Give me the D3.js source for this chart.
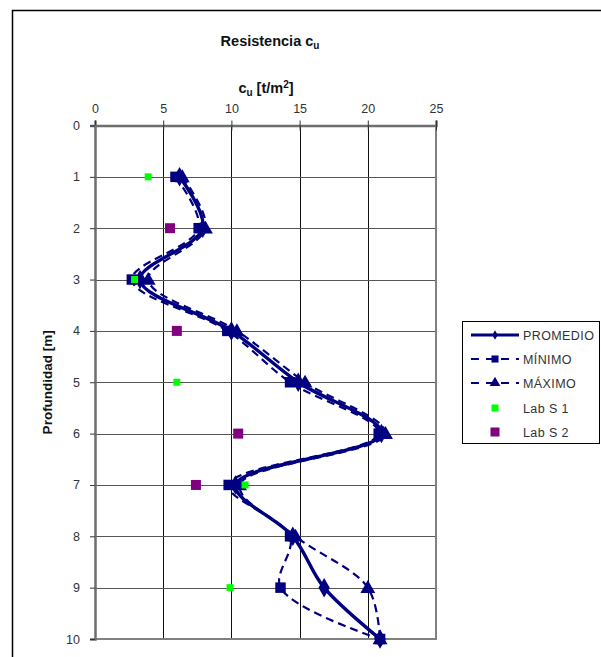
<!DOCTYPE html>
<html>
<head>
<meta charset="utf-8">
<script src="https://cdn.jsdelivr.net/npm/d3@7"></script>
<style>
  html, body { margin: 0; padding: 0; background: #fff; }
  svg { display: block; font-family: "Liberation Sans", Arial, sans-serif; }
</style>
</head>
<body>
<svg id="chart" width="601" height="657"></svg>
<script>
// Depth of each measurement [m]
const depths = [1, 2, 3, 4, 5, 6, 7, 8, 9, 10];
// Undrained shear strength cu [t/m2]
const promedio = [6.2, 7.9, 3.3, 10.0, 14.9, 21.0, 10.3, 14.5, 16.8, 20.9];
const minimo   = [5.9, 7.6, 2.7, 9.7, 14.3, 20.8, 9.8, 14.3, 13.6, 20.9];
const maximo   = [6.4, 8.1, 3.9, 10.4, 15.4, 21.3, 10.6, 14.7, 20.0, 20.9];
// Laboratory results
const labS1Depth = [1, 3, 5, 7, 9];
const labS1      = [3.9, 2.9, 6.0, 11.0, 9.9];
const labS2Depth = [2, 4, 6, 7];
const labS2      = [5.5, 6.0, 10.5, 7.4];
// Axis ticks
const xTicks = [0, 5, 10, 15, 20, 25];
const yTicks = [0, 1, 2, 3, 4, 5, 6, 7, 8, 9, 10];

const navy = "#000080";
const svg = d3.select("#chart");

// outer frame
svg.append("rect").attr("x", 12.5).attr("y", 10.5).attr("width", 620).attr("height", 700)
  .attr("fill", "none").attr("stroke", "#000").attr("stroke-width", 1.5);

const x = d3.scaleLinear().domain([0, 25]).range([95, 436]);
const y = d3.scaleLinear().domain([0, 10]).range([125.5, 639]);

// gridlines
svg.append("g").selectAll("line").data(xTicks.slice(1, -1)).join("line")
  .attr("x1", d => Math.round(x(d)) + 0.5).attr("x2", d => Math.round(x(d)) + 0.5)
  .attr("y1", y(0)).attr("y2", y(10)).attr("stroke", "#111").attr("stroke-width", 1);
svg.append("g").selectAll("line").data(yTicks.slice(1, -1)).join("line")
  .attr("x1", x(0)).attr("x2", x(25))
  .attr("y1", d => Math.round(y(d)) + 0.5).attr("y2", d => Math.round(y(d)) + 0.5)
  .attr("stroke", "#555").attr("stroke-width", 1.2);

// right and bottom border of plot area
svg.append("path")
  .attr("d", `M${x(0)},${y(10)}H${x(25)}V${y(0)}`)
  .attr("fill", "none").attr("stroke", "#808080").attr("stroke-width", 2);

// top axis
const xAxis = d3.axisTop(x).tickValues(xTicks).tickSize(5).tickPadding(8);
const gx = svg.append("g").attr("transform", `translate(0,${y(0)})`).call(xAxis);
gx.select(".domain").attr("stroke", "#6e6e6e").attr("stroke-width", 2.5);
gx.selectAll(".tick line").attr("stroke", "#333").attr("y2", 5).attr("y1", -5);
gx.selectAll(".tick text").attr("font-size", 12.5).attr("fill", "#333")
  .attr("font-family", "Liberation Sans, Arial, sans-serif");

// left axis
const yAxis = d3.axisLeft(y).tickValues(yTicks).tickSize(5).tickPadding(10);
const gy = svg.append("g").attr("transform", `translate(${x(0)},0)`).call(yAxis);
gy.select(".domain").attr("stroke", "#6e6e6e").attr("stroke-width", 2.5);
gy.selectAll(".tick line").attr("stroke", "#333").attr("x1", 0).attr("x2", -5);
gy.selectAll(".tick text").attr("font-size", 12.5).attr("fill", "#333")
  .attr("font-family", "Liberation Sans, Arial, sans-serif");

// titles
const title = svg.append("text").attr("x", 270).attr("y", 46).attr("text-anchor", "middle")
  .attr("font-weight", "bold").attr("font-size", 14.5).attr("fill", "#111");
title.append("tspan").text("Resistencia c");
title.append("tspan").attr("font-size", 10).attr("dy", 3).text("u");

const xt = svg.append("text").attr("x", 266).attr("y", 93).attr("text-anchor", "middle")
  .attr("font-weight", "bold").attr("font-size", 14.5).attr("fill", "#111");
xt.append("tspan").text("c");
xt.append("tspan").attr("font-size", 10).attr("dy", 3).text("u");
xt.append("tspan").attr("dy", -3).text(" [t/m");
xt.append("tspan").attr("font-size", 10).attr("dy", -5).text("2");
xt.append("tspan").attr("dy", 5).text("]");

svg.append("text").attr("transform", `translate(52,${(y(0) + y(10)) / 2}) rotate(-90)`)
  .attr("text-anchor", "middle").attr("font-weight", "bold").attr("font-size", 13.5)
  .attr("fill", "#111").text("Profundidad [m]");

// series
const line = d3.line().curve(d3.curveCatmullRom.alpha(0.5));
const pts = vals => vals.map((v, i) => [x(v), y(depths[i])]);

const plot = svg.append("g");
plot.append("path").attr("d", line(pts(minimo))).attr("fill", "none")
  .attr("stroke", navy).attr("stroke-width", 2.2).attr("stroke-dasharray", "8,5");
plot.append("path").attr("d", line(pts(maximo))).attr("fill", "none")
  .attr("stroke", navy).attr("stroke-width", 2.2).attr("stroke-dasharray", "8,5");
plot.append("path").attr("d", line(pts(promedio))).attr("fill", "none")
  .attr("stroke", navy).attr("stroke-width", 3.4);

const sq = d3.symbol().type(d3.symbolSquare);
const tri = d3.symbol().type(d3.symbolTriangle);
const dia = d3.symbol().type(d3.symbolDiamond);

plot.append("g").selectAll("path").data(minimo).join("path")
  .attr("transform", (d, i) => `translate(${x(d)},${y(depths[i])})`)
  .attr("d", sq.size(110)).attr("fill", navy);
plot.append("g").selectAll("path").data(maximo).join("path")
  .attr("transform", (d, i) => `translate(${x(d)},${y(depths[i]) + 1})`)
  .attr("d", tri.size(95)).attr("fill", navy);
plot.append("g").selectAll("path").data(promedio).join("path")
  .attr("transform", (d, i) => `translate(${x(d)},${y(depths[i])})`)
  .attr("d", dia.size(110)).attr("fill", navy);

plot.append("g").selectAll("rect").data(labS2).join("rect")
  .attr("x", d => x(d) - 5).attr("y", (d, i) => y(labS2Depth[i]) - 5)
  .attr("width", 10).attr("height", 10).attr("fill", "#800080");
plot.append("g").selectAll("rect").data(labS1).join("rect")
  .attr("x", d => x(d) - 3.5).attr("y", (d, i) => y(labS1Depth[i]) - 3.5)
  .attr("width", 7).attr("height", 7).attr("fill", "#00ff00");

// legend
const lg = svg.append("g");
lg.append("rect").attr("x", 462.5).attr("y", 321.5).attr("width", 137).attr("height", 122)
  .attr("fill", "#fff").attr("stroke", "#000").attr("stroke-width", 1);
const legendItems = [
  { name: "PROMEDIO", kind: "solid", sym: dia, y: 335 },
  { name: "MÍNIMO", kind: "dash", sym: sq, y: 359 },
  { name: "MÁXIMO", kind: "dash", sym: tri, y: 383 },
  { name: "Lab S 1", kind: "pt", color: "#00ff00", s: 7, y: 408 },
  { name: "Lab S 2", kind: "pt", color: "#800080", s: 9, y: 432 }
];
legendItems.forEach(it => {
  if (it.kind === "solid") {
    lg.append("line").attr("x1", 471).attr("x2", 519).attr("y1", it.y).attr("y2", it.y)
      .attr("stroke", navy).attr("stroke-width", 3);
    lg.append("path").attr("transform", `translate(495,${it.y})`).attr("d", it.sym.size(25)).attr("fill", navy);
  } else if (it.kind === "dash") {
    lg.append("line").attr("x1", 471).attr("x2", 519).attr("y1", it.y).attr("y2", it.y)
      .attr("stroke", navy).attr("stroke-width", 2).attr("stroke-dasharray", "8,7");
    lg.append("path").attr("transform", `translate(495,${it.y})`).attr("d", it.sym.size(50)).attr("fill", navy);
  } else {
    lg.append("rect").attr("x", 495 - it.s / 2).attr("y", it.y - it.s / 2)
      .attr("width", it.s).attr("height", it.s).attr("fill", it.color);
  }
  lg.append("text").attr("x", 523).attr("y", it.y + 4.5).attr("font-size", 12.5)
    .attr("fill", "#333").attr("letter-spacing", 0.4).text(it.name);
});
</script>
</body>
</html>
